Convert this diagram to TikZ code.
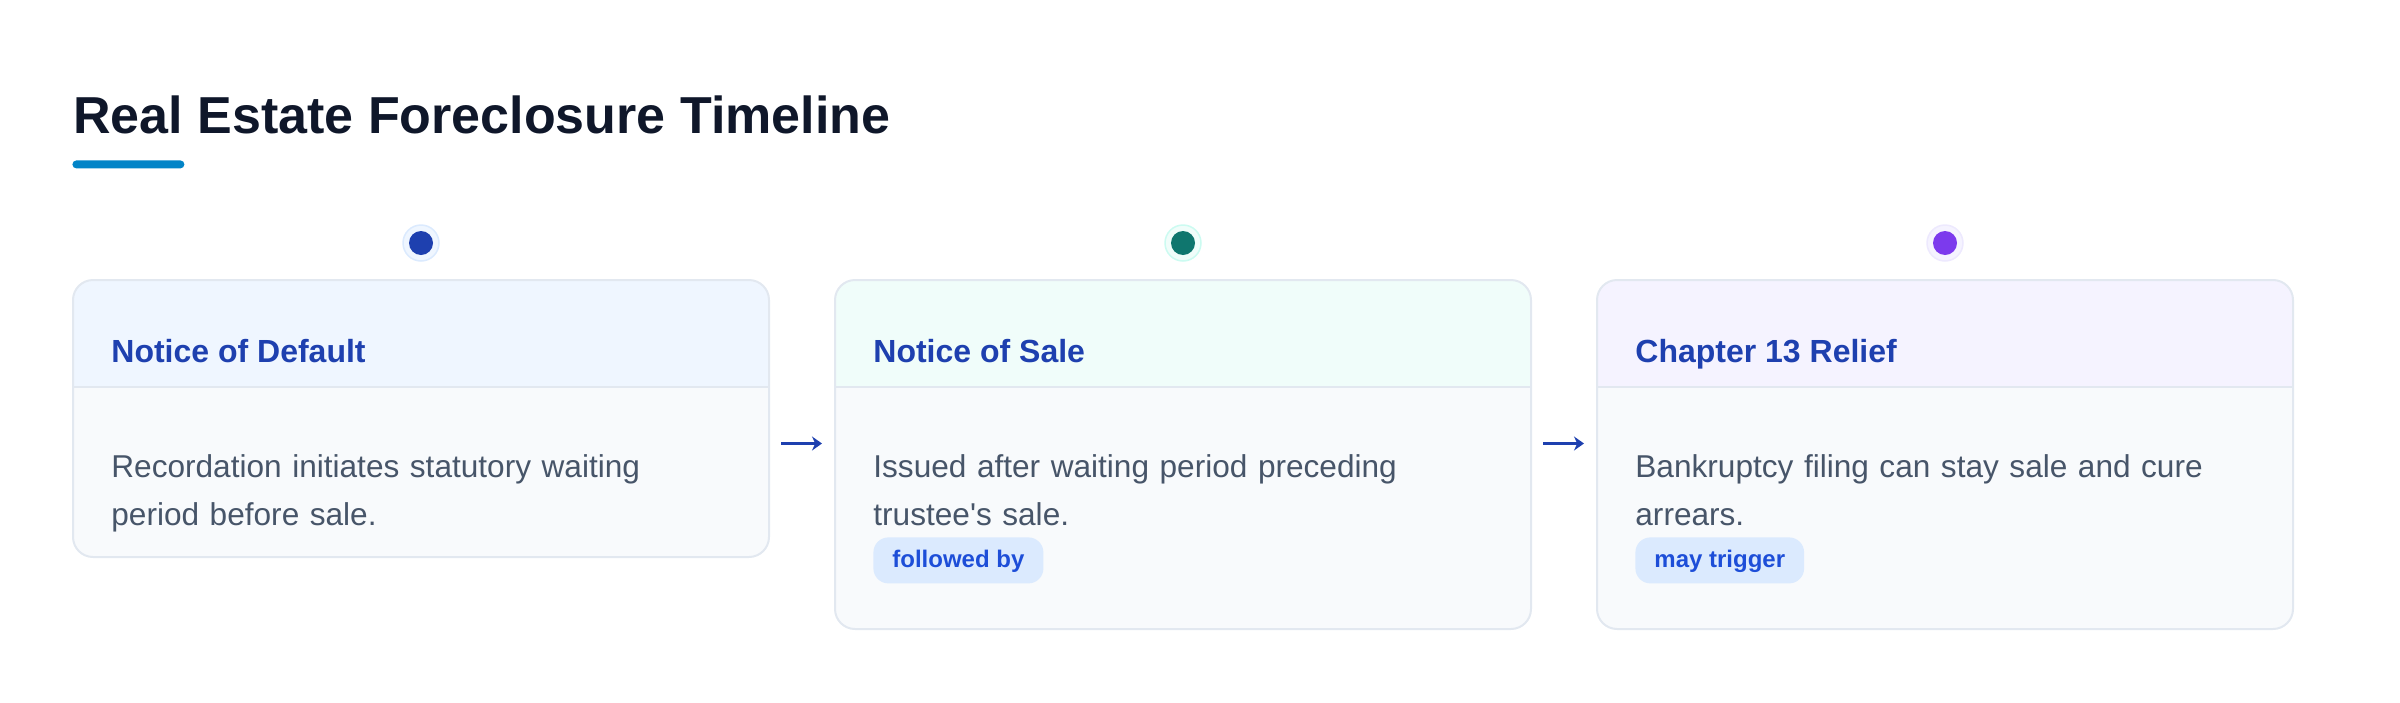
\documentclass[tikz,border=0pt]{standalone}
\usepackage{fontspec}
\setmainfont{Liberation Sans}
\usetikzlibrary{positioning, arrows.meta}
\definecolor{ink}{HTML}{0F172A}
\definecolor{sky600}{HTML}{0284C7}
\definecolor{slate50}{HTML}{F8FAFC}
\definecolor{slate200}{HTML}{E2E8F0}
\definecolor{slate600}{HTML}{475569}
\definecolor{blue50}{HTML}{EFF6FF}
\definecolor{blue100}{HTML}{DBEAFE}
\definecolor{blue700}{HTML}{1D4ED8}
\definecolor{blue800}{HTML}{1E40AF}
\definecolor{teal50}{HTML}{F0FDFA}
\definecolor{teal100}{HTML}{CCFBF1}
\definecolor{teal700}{HTML}{0F766E}
\definecolor{violet50}{HTML}{F5F3FF}
\definecolor{violet100}{HTML}{EDE9FE}
\definecolor{violet600}{HTML}{7C3AED}
\tikzstyle{card} = [rectangle, rounded corners=10pt, minimum width=348pt, fill=slate50, outer sep=0pt, inner sep=0pt]
\tikzstyle{edge} = [draw=slate200, line width=1pt]
\tikzstyle{heading} = [anchor=base west, inner sep=0pt, text=blue800, font=\fontsize{16}{19}\selectfont\bfseries]
\tikzstyle{body} = [anchor=base west, inner sep=0pt, text width=320pt, align=left, text=slate600, font=\fontsize{15.8}{24}\selectfont]
\tikzstyle{tag} = [rectangle, rounded corners=7.5pt, anchor=north west, fill=blue100, text=blue700, minimum height=23pt, inner xsep=9.5pt, inner ysep=0pt, text height=9pt, text depth=2pt, font=\fontsize{12}{14}\selectfont\bfseries]
\tikzstyle{ring} = [circle, minimum size=18pt, inner sep=0pt, line width=0.75pt]
\tikzstyle{dot} = [circle, minimum size=12pt, inner sep=0pt]
\tikzstyle{arrow} = [line width=1.1pt, draw=blue800, -{Stealth[length=5pt,width=7pt]}]

\begin{document}
\begin{tikzpicture}[x=0.5pt, y=-0.5pt]
   \useasboundingbox (0,0) rectangle (2400,702);
   \node (title) [anchor=base west, inner sep=0pt, text=ink, font=\fontsize{26}{30}\selectfont\bfseries] at (73,133) {Real Estate Foreclosure Timeline};
   \node (bar) [rectangle, rounded corners=2pt, fill=sky600, minimum width=56pt, minimum height=4pt, inner sep=0pt, anchor=north west] at (72,160) {};

   \node (c1) [card, minimum height=138.5pt, anchor=north west] at (73,280) {};
   \node (c2) [card, minimum height=174.5pt, right=33pt of c1.north east, anchor=north west] {};
   \node (c3) [card, minimum height=174.5pt, right=33pt of c2.north east, anchor=north west] {};

   % card headers
   \fill[blue50] ([yshift=-53.5pt]c1.north west) [rounded corners=10pt] -- (c1.north west) -- (c1.north east) [sharp corners] -- ([yshift=-53.5pt]c1.north east) -- cycle;
   \fill[teal50] ([yshift=-53.5pt]c2.north west) [rounded corners=10pt] -- (c2.north west) -- (c2.north east) [sharp corners] -- ([yshift=-53.5pt]c2.north east) -- cycle;
   \fill[violet50] ([yshift=-53.5pt]c3.north west) [rounded corners=10pt] -- (c3.north west) -- (c3.north east) [sharp corners] -- ([yshift=-53.5pt]c3.north east) -- cycle;
   \draw[edge] ([yshift=-53.5pt]c1.north west) -- ([yshift=-53.5pt]c1.north east);
   \draw[edge] ([yshift=-53.5pt]c2.north west) -- ([yshift=-53.5pt]c2.north east);
   \draw[edge] ([yshift=-53.5pt]c3.north west) -- ([yshift=-53.5pt]c3.north east);
   \draw[edge, rounded corners=10pt] (c1.north west) rectangle (c1.south east);
   \draw[edge, rounded corners=10pt] (c2.north west) rectangle (c2.south east);
   \draw[edge, rounded corners=10pt] (c3.north west) rectangle (c3.south east);

   % timeline dots
   \node (r1) [ring, fill=blue50, draw=blue100] at ([yshift=18.5pt]c1.north) {};
   \node (d1) [dot, fill=blue800] at (r1) {};
   \node (r2) [ring, fill=teal50, draw=teal100] at ([yshift=18.5pt]c2.north) {};
   \node (d2) [dot, fill=teal700] at (r2) {};
   \node (r3) [ring, fill=violet50, draw=violet100] at ([yshift=18.5pt]c3.north) {};
   \node (d3) [dot, fill=violet600] at (r3) {};

   \node (h1) [heading] at ([shift={(38,82)}]c1.north west) {Notice of Default};
   \node (h2) [heading] at ([shift={(38,82)}]c2.north west) {Notice of Sale};
   \node (h3) [heading] at ([shift={(38,82)}]c3.north west) {Chapter 13 Relief};

   \node (b1) [body] at ([shift={(38,197)}]c1.north west) {Recordation initiates statutory waiting\\period before sale.};
   \node (b2) [body] at ([shift={(38,197)}]c2.north west) {Issued after waiting period preceding\\trustee\textquotesingle s sale.};
   \node (b3) [body] at ([shift={(38,197)}]c3.north west) {Bankruptcy filing can stay sale and cure\\arrears.};

   \node (g2) [tag] at ([shift={(38,257)}]c2.north west) {followed by};
   \node (g3) [tag] at ([shift={(38,257)}]c3.north west) {may trigger};

   \draw [arrow] ([shift={(12,25)}]c1.east) -- ([shift={(-13,-11)}]c2.west);
   \draw [arrow] ([shift={(12,-11)}]c2.east) -- ([shift={(-13,-11)}]c3.west);
\end{tikzpicture}
\end{document}
